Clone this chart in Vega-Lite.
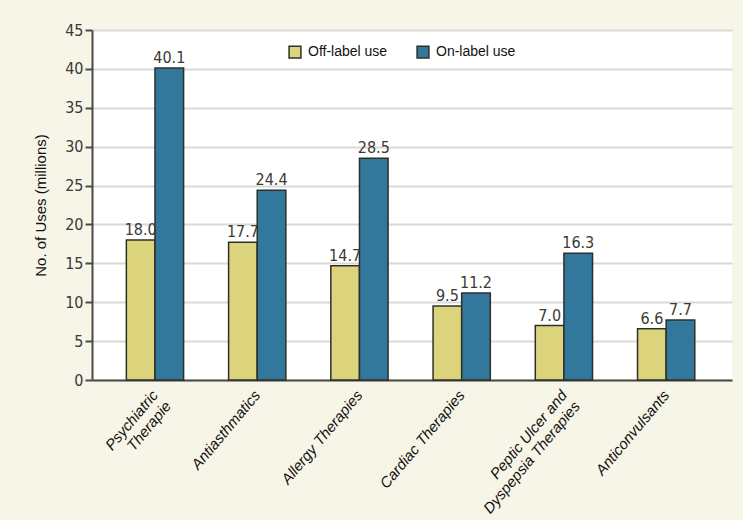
{
  "$schema": "https://vega.github.io/schema/vega-lite/v6.json",
  "autosize": {"type": "none"},
  "padding": {"left": 92, "top": 30, "right": 11, "bottom": 140},
  "width": 640,
  "height": 350,
  "background": "#F7F5E7",
  "data": {
    "values": [
      {"category": "Psychiatric Therapie", "use": "Off-label use", "value": 18.0},
      {"category": "Psychiatric Therapie", "use": "On-label use", "value": 40.1},
      {"category": "Antiasthmatics", "use": "Off-label use", "value": 17.7},
      {"category": "Antiasthmatics", "use": "On-label use", "value": 24.4},
      {"category": "Allergy Therapies", "use": "Off-label use", "value": 14.7},
      {"category": "Allergy Therapies", "use": "On-label use", "value": 28.5},
      {"category": "Cardiac Therapies", "use": "Off-label use", "value": 9.5},
      {"category": "Cardiac Therapies", "use": "On-label use", "value": 11.2},
      {"category": "Peptic Ulcer and Dyspepsia Therapies", "use": "Off-label use", "value": 7.0},
      {"category": "Peptic Ulcer and Dyspepsia Therapies", "use": "On-label use", "value": 16.3},
      {"category": "Anticonvulsants", "use": "Off-label use", "value": 6.6},
      {"category": "Anticonvulsants", "use": "On-label use", "value": 7.7}
    ]
  },
  "encoding": {
    "x": {
      "field": "category",
      "type": "nominal",
      "sort": null,
      "scale": {"paddingInner": 0.44, "paddingOuter": 0.35, "align": 0.48},
      "axis": {
        "title": null,
        "labelAngle": -50,
        "labelAlign": "right",
        "labelBaseline": "middle",
        "labelFont": "Liberation Sans",
        "labelFontStyle": "italic",
        "labelFontSize": 15,
        "labelColor": "#111",
        "labelPadding": 12,
        "labelLineHeight": 17,
        "ticks": false,
        "domainColor": "#4a4a44",
        "domainWidth": 2,
        "labelExpr": "datum.label == 'Psychiatric Therapie' ? ['Psychiatric', 'Therapie'] : datum.label == 'Peptic Ulcer and Dyspepsia Therapies' ? ['Peptic Ulcer and', 'Dyspepsia Therapies'] : datum.label"
      }
    },
    "xOffset": {"field": "use", "type": "nominal", "sort": ["Off-label use", "On-label use"]},
    "y": {
      "field": "value",
      "type": "quantitative",
      "scale": {"domain": [0, 45], "nice": false},
      "axis": {
        "title": "No. of Uses (millions)",
        "titleFont": "Liberation Sans",
        "titleFontSize": 15,
        "titleFontWeight": "normal",
        "titleColor": "#111",
        "titlePadding": 16,
        "values": [0, 5, 10, 15, 20, 25, 30, 35, 40, 45],
        "labelFont": "DejaVu Sans Condensed, sans-serif",
        "labelFontSize": 16,
        "labelColor": "#3a3a36",
        "labelPadding": 2,
        "tickSize": 7,
        "tickColor": "#4a4a44",
        "tickWidth": 2,
        "domainColor": "#4a4a44",
        "domainWidth": 2,
        "gridColor": "#d9d9d6",
        "gridWidth": 2
      }
    }
  },
  "layer": [
    {
      "mark": {"type": "bar", "stroke": "#2f2f2a", "strokeWidth": 1.5},
      "encoding": {
        "color": {
          "field": "use",
          "type": "nominal",
          "scale": {"domain": ["Off-label use", "On-label use"], "range": ["#DCD47C", "#32789C"]},
          "legend": {
            "title": null,
            "orient": "none",
            "direction": "horizontal",
            "legendX": 196,
            "legendY": 15,
            "symbolType": "square",
            "symbolSize": 140,
            "symbolStrokeColor": "#2f2f2a",
            "symbolStrokeWidth": 1.5,
            "labelFont": "Liberation Sans",
            "labelFontSize": 14,
            "labelColor": "#111",
            "columnPadding": 26,
            "labelOffset": 6
          }
        }
      }
    },
    {
      "mark": {
        "type": "text",
        "dy": -10,
        "font": "DejaVu Sans Condensed, sans-serif",
        "fontSize": 16,
        "color": "#3a3a36"
      },
      "encoding": {
        "text": {"field": "value", "type": "quantitative", "format": ".1f"}
      }
    }
  ],
  "config": {
    "view": {"fill": "white", "stroke": null}
  }
}
